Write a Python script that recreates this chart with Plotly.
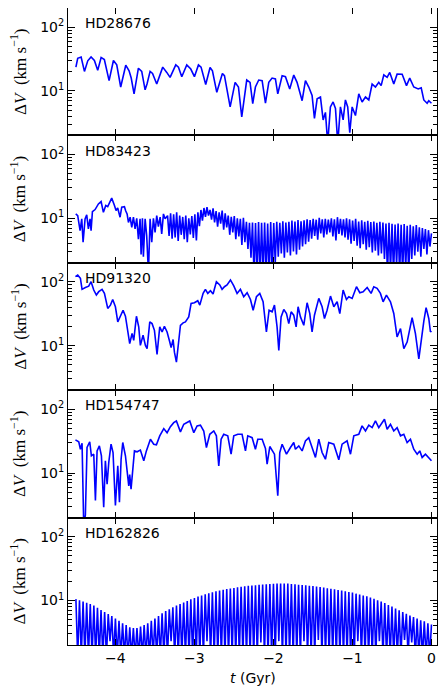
import numpy as np
import plotly.graph_objects as go
from plotly.subplots import make_subplots

# star names, top to bottom
stars = ["HD28676", "HD83423", "HD91320", "HD154747", "HD162826"]

# HD28676: time (Gyr) and velocity difference (km/s)
t_28676 = [-4.500, -4.477, -4.434, -4.392, -4.350, -4.308, -4.266, -4.224, -4.181, -4.140,
           -4.080, -4.025, -3.983, -3.933, -3.869, -3.827, -3.800, -3.764, -3.709, -3.667,
           -3.624, -3.600, -3.561, -3.530, -3.477, -3.401, -3.350, -3.308, -3.236, -3.202,
           -3.160, -3.097, -3.046, -3.000, -2.949, -2.916, -2.857, -2.802, -2.772, -2.717,
           -2.646, -2.620, -2.548, -2.485, -2.443, -2.401, -2.338, -2.296, -2.262, -2.228,
           -2.186, -2.143, -2.101, -2.059, -2.017, -1.975, -1.945, -1.890, -1.848, -1.794,
           -1.743, -1.701, -1.637, -1.595, -1.553, -1.511, -1.481, -1.447, -1.405, -1.371,
           -1.342, -1.313, -1.279, -1.245, -1.215, -1.186, -1.152, -1.118, -1.089, -1.060,
           -1.034, -1.004, -0.962, -0.920, -0.878, -0.835, -0.793, -0.751, -0.709, -0.667,
           -0.637, -0.603, -0.561, -0.528, -0.477, -0.435, -0.371, -0.316, -0.275, -0.224,
           -0.168, -0.130, -0.097, -0.055, -0.034, 0.000]
dv_28676 = [23.6, 32.5, 34.0, 20.2, 29.6, 34.0, 30.0, 21.0, 33.5, 31.0,
            14.5, 30.0, 25.6, 11.5, 25.3, 20.7, 15.9, 9.0, 22.7, 20.2,
            10.4, 12.8, 20.2, 18.8, 12.8, 23.6, 19.5, 16.3, 25.6, 23.6,
            16.7, 25.6, 22.0, 16.7, 25.6, 23.6, 12.6, 23.3, 20.7, 9.5,
            18.8, 17.3, 5.6, 13.6, 11.5, 3.9, 14.8, 13.6, 6.3, 11.5,
            14.8, 14.5, 6.4, 13.6, 15.9, 15.4, 9.0, 17.3, 16.7, 10.7,
            17.7, 13.6, 7.0, 14.5, 11.5, 8.5, 3.7, 7.5, 8.0, 3.5,
            4.6, 1.5, 5.6, 6.7, 5.3, 1.5, 5.6, 3.5, 7.2, 5.6,
            2.2, 5.6, 4.1, 9.0, 6.7, 8.0, 7.2, 12.8, 11.5, 13.6,
            12.1, 17.9, 16.3, 19.5, 12.8, 18.3, 18.2, 12.1, 15.9, 11.5,
            10.7, 11.2, 7.2, 6.4, 7.0, 6.4]

# HD83423: irregular early part, then fast oscillation (peaks / troughs per cycle)
t_83423_early = [-4.502, -4.477, -4.447, -4.426, -4.409, -4.384, -4.363, -4.342, -4.321, -4.308,
                 -4.291, -4.257, -4.215, -4.181, -4.152, -4.122, -4.097, -4.067, -4.047, -4.013,
                 -3.992, -3.971, -3.941, -3.920, -3.886, -3.869, -3.852, -3.835, -3.814, -3.793,
                 -3.772, -3.751, -3.730, -3.709, -3.688, -3.675, -3.658, -3.646, -3.624, -3.604,
                 -3.582, -3.561, -3.540, -3.519, -3.498, -3.477, -3.456, -3.434, -3.414, -3.392,
                 -3.371]
dv_83423_early = [11.7, 11.0, 6.4, 9.8, 4.2, 9.8, 11.3, 6.8, 9.8, 6.4,
                  12.7, 13.7, 16.8, 18.3, 12.4, 15.9, 15.2, 19.0, 20.7, 16.0,
                  13.2, 14.5, 10.4, 14.9, 15.2, 13.0, 11.7, 8.6, 10.4, 7.2,
                  10.4, 6.8, 10.0, 4.7, 9.8, 2.7, 10.0, 2.5, 9.8, 5.3,
                  1.4, 9.8, 4.2, 10.0, 6.0, 11.0, 7.4, 10.4, 5.7, 11.7,
                  9.8]
peak_83423 = [11.0, 12.0, 11.5, 12.4, 11.0, 10.5, 11.0, 10.0, 10.8, 11.5,
              12.4, 13.5, 14.5, 14.9, 13.5, 14.3, 13.0, 12.4, 13.2, 12.0,
              11.0, 10.5, 10.8, 10.0, 9.8, 10.2, 8.8, 8.5, 8.6, 8.4,
              8.7, 8.5, 8.6, 8.3, 8.7, 8.4, 8.8, 8.5, 9.0, 8.6,
              8.8, 9.2, 8.9, 9.4, 9.0, 9.3, 9.6, 9.4, 9.8, 9.5,
              10.2, 9.6, 9.8, 9.5, 10.0, 9.6, 10.4, 9.8, 9.6, 10.0,
              9.6, 9.2, 9.8, 8.9, 9.3, 8.8, 9.1, 8.7, 8.9, 8.5,
              8.8, 8.6, 8.3, 8.5, 8.2, 8.0, 8.3, 7.9, 8.1, 7.6,
              7.9, 7.5, 7.8, 7.2, 7.0, 6.8, 6.5, 5.8]
trough_83423 = [5.3, 4.8, 5.0, 4.4, 5.5, 4.7, 4.2, 5.6, 4.9, 4.5,
                7.5, 9.2, 10.5, 11.0, 9.5, 8.6, 7.4, 8.2, 6.6, 7.2,
                5.5, 6.0, 4.7, 5.2, 3.8, 4.2, 3.3, 2.4, 1.3, 1.3,
                1.3, 1.3, 1.3, 1.3, 1.3, 2.0, 2.5, 2.8, 2.4, 2.9,
                2.6, 3.0, 2.7, 3.2, 3.6, 3.9, 4.3, 4.8, 5.3, 4.6,
                5.8, 5.0, 5.6, 6.0, 5.2, 4.5, 5.7, 5.4, 5.0, 4.6,
                4.0, 4.4, 3.7, 3.4, 3.9, 3.2, 3.5, 2.9, 3.1, 2.6,
                2.8, 2.3, 1.3, 1.5, 1.3, 1.8, 1.3, 1.3, 1.6, 1.3,
                2.3, 2.6, 3.0, 2.5, 3.3, 2.7, 3.6]

# HD91320
t_91320 = [-4.506, -4.477, -4.443, -4.422, -4.380, -4.338, -4.308, -4.274, -4.241, -4.211,
           -4.169, -4.139, -4.097, -4.063, -4.034, -4.000, -3.970, -3.937, -3.903, -3.873,
           -3.844, -3.819, -3.789, -3.768, -3.734, -3.705, -3.684, -3.650, -3.620, -3.599,
           -3.565, -3.536, -3.506, -3.473, -3.439, -3.409, -3.380, -3.346, -3.312, -3.295,
           -3.270, -3.253, -3.228, -3.198, -3.177, -3.143, -3.114, -3.072, -3.042, -3.000,
           -2.958, -2.932, -2.890, -2.861, -2.831, -2.797, -2.764, -2.722, -2.679, -2.650,
           -2.620, -2.587, -2.544, -2.502, -2.460, -2.418, -2.376, -2.333, -2.291, -2.257,
           -2.215, -2.173, -2.131, -2.089, -2.055, -2.017, -1.987, -1.954, -1.932, -1.903,
           -1.869, -1.835, -1.806, -1.776, -1.743, -1.713, -1.688, -1.658, -1.616, -1.574,
           -1.540, -1.511, -1.481, -1.426, -1.384, -1.354, -1.321, -1.278, -1.236, -1.194,
           -1.160, -1.118, -1.076, -1.046, -1.004, -0.949, -0.907, -0.865, -0.814, -0.764,
           -0.730, -0.688, -0.646, -0.612, -0.570, -0.519, -0.477, -0.435, -0.392, -0.350,
           -0.308, -0.245, -0.203, -0.160, -0.131, -0.097, -0.068, -0.034, -0.013, 0.000]
dv_91320 = [121, 128, 114, 76.6, 82, 86, 101, 74.8, 62.3, 70.4,
            76.6, 66.2, 38.4, 43.3, 53.2, 40.8, 23.6, 30.1, 36, 29,
            15.5, 10.8, 15.5, 12.1, 29, 19.7, 10.1, 14.6, 10.1, 9.0,
            23.6, 22.2, 17.4, 7.3, 19.7, 16.4, 20.2, 16.4, 11.4, 9.3,
            12.5, 7.9, 5.5, 12.9, 20.9, 22.8, 23.6, 28.3, 46, 47.2,
            50.8, 43.3, 66.2, 76.6, 66.2, 73.1, 64.7, 101, 89.7, 76.6,
            84.2, 89.7, 107.6, 86.6, 66.2, 76.6, 58.6, 67.8, 53.2, 36,
            58.6, 66.2, 48.9, 16.4, 36, 34, 43.3, 19.7, 8.4, 28.3,
            37.1, 31.9, 22.2, 34, 30.1, 19.7, 40.8, 28.3, 20.9, 47.2,
            31.9, 16.4, 30.1, 55.2, 40.8, 26.7, 36, 60, 40.8, 48.9,
            31.9, 74.8, 53.2, 58.6, 55.2, 84.2, 67.8, 70.4, 82, 66.2,
            84.2, 79.4, 66.2, 48.9, 62.3, 48.9, 32, 13.7, 18.5, 9.0,
            11.4, 27.6, 15.5, 6.2, 12.9, 24, 39.6, 26.7, 16.4, 17]

# HD154747
t_154747 = [-4.506, -4.464, -4.443, -4.422, -4.401, -4.380, -4.359, -4.325, -4.304, -4.274,
            -4.253, -4.232, -4.203, -4.177, -4.148, -4.127, -4.105, -4.084, -4.055, -4.030,
            -4.000, -3.970, -3.949, -3.928, -3.907, -3.873, -3.831, -3.819, -3.802, -3.781,
            -3.759, -3.726, -3.684, -3.641, -3.608, -3.557, -3.515, -3.481, -3.439, -3.388,
            -3.346, -3.304, -3.262, -3.228, -3.177, -3.135, -3.093, -3.059, -3.008, -2.966,
            -2.924, -2.882, -2.848, -2.806, -2.755, -2.722, -2.692, -2.662, -2.629, -2.578,
            -2.536, -2.502, -2.451, -2.397, -2.354, -2.325, -2.270, -2.228, -2.198, -2.143,
            -2.101, -2.080, -2.046, -2.017, -1.987, -1.945, -1.920, -1.890, -1.835, -1.785,
            -1.743, -1.722, -1.679, -1.637, -1.595, -1.553, -1.511, -1.468, -1.426, -1.384,
            -1.342, -1.300, -1.236, -1.173, -1.131, -1.068, -1.025, -0.983, -0.920, -0.878,
            -0.835, -0.793, -0.751, -0.709, -0.667, -0.624, -0.595, -0.561, -0.519, -0.477,
            -0.435, -0.392, -0.350, -0.308, -0.266, -0.224, -0.181, -0.148, -0.118, -0.076,
            -0.034, 0.000]
dv_154747 = [33.2, 30.9, 23.7, 29.4, 1.5, 2.2, 25.2, 31, 18.7, 19.8,
             3.7, 22.3, 26.7, 18.7, 2.9, 15.6, 6.7, 14.7, 28.4, 21,
             3.1, 13.0, 3.5, 16.5, 30.2, 18.7, 6.3, 9.5, 5.6, 10.3,
             22.3, 21.6, 23, 15.6, 22.3, 33.9, 28.4, 27.8, 38.3, 49.9,
             43, 53.5, 61.9, 65.8, 44.3, 58.3, 61.9, 65.8, 43, 54.9,
             56.4, 45.8, 25.2, 40.6, 45.8, 38.4, 13.0, 34, 40.6, 38.4,
             19.8, 38.4, 40.6, 40.6, 22.3, 38.4, 36, 23.7, 34, 34,
             24.3, 13.8, 26.1, 22.3, 19.8, 4.4, 21.0, 28.4, 19.8, 25.2,
             30.2, 23.7, 26.7, 22.3, 32, 36, 25.2, 17.6, 34, 21,
             16.5, 30.2, 28.4, 16.2, 28.4, 32, 19.8, 38.4, 40.6, 55,
             45.8, 56.4, 51.7, 65.8, 51.7, 61.9, 69.9, 48.7, 58.3, 45.8,
             51.7, 38.4, 40.6, 30.2, 34, 23.7, 19.8, 22.3, 17.6, 19.8,
             17.6, 15.6]

# HD162826: one peak and one trough per orbital cycle
peak_162826 = [10.5, 10.1, 9.6, 9.2, 8.8, 8.3, 7.7, 7.1, 6.6, 6.1,
               5.7, 5.2, 4.8, 4.4, 4.1, 3.8, 3.7, 3.7, 3.9, 4.1,
               4.4, 4.8, 5.2, 5.7, 6.3, 6.8, 7.3, 7.8, 8.3, 8.8,
               9.3, 9.8, 10.4, 10.9, 11.5, 12.0, 12.5, 13.0, 13.4, 13.9,
               14.3, 14.7, 15.1, 15.4, 15.7, 16.1, 16.4, 16.7, 17.0, 17.2,
               17.4, 17.6, 17.8, 18.0, 18.1, 18.3, 18.4, 18.5, 18.5, 18.4,
               18.2, 18.0, 17.7, 17.5, 17.3, 17.0, 16.8, 16.6, 16.3, 16.0,
               15.6, 15.3, 15.0, 14.6, 14.3, 13.9, 13.6, 13.3, 12.8, 12.4,
               12.0, 11.6, 11.1, 10.6, 10.1, 9.6, 9.1, 8.5, 8.0, 7.5,
               7.0, 6.6, 6.2, 5.8, 5.5, 5.2, 4.9, 4.7, 4.4, 4.2]
trough_162826 = [1.3, 1.3, 1.3, 1.3, 1.3, 1.3, 1.3, 1.3, 1.3, 2.3,
                 1.3, 1.3, 1.3, 1.3, 1.3, 1.3, 1.3, 1.3, 1.3, 1.3,
                 1.3, 1.3, 1.3, 1.3, 1.3, 1.3, 2.3, 1.3, 1.3, 1.3,
                 1.3, 1.3, 1.3, 1.3, 1.3, 1.3, 2.3, 1.3, 1.3, 1.3,
                 1.3, 1.3, 1.3, 1.3, 1.3, 1.3, 1.3, 1.3, 1.3, 1.3,
                 1.3, 2.2, 1.3, 1.3, 1.3, 1.3, 2.3, 1.3, 1.3, 1.3,
                 1.3, 1.3, 1.3, 2.3, 1.3, 1.3, 1.3, 2.4, 1.3, 1.3,
                 1.3, 1.3, 1.3, 1.3, 1.3, 1.3, 1.3, 1.3, 2.3, 1.3,
                 1.3, 1.3, 1.3, 1.3, 2.3, 1.3, 1.3, 1.3, 1.3, 1.3,
                 1.3, 2.4, 1.3, 2.2, 1.3, 1.3, 1.3, 1.3, 1.3]


def interleave(t0, t1, peaks, troughs):
    # sample times of cycle peaks, troughs sit half way between them
    tp = np.linspace(t0, t1, len(peaks))
    xs, ys = [], []
    for i, p in enumerate(peaks):
        xs.append(tp[i])
        ys.append(p)
        if i < len(troughs):
            xs.append(0.5 * (tp[i] + tp[i + 1]))
            ys.append(troughs[i])
    return xs, ys


x2, y2 = interleave(-3.34, 0.0, peak_83423, trough_83423)
x5, y5 = interleave(-4.5, 0.0, peak_162826, trough_162826)

series = [
    (t_28676, dv_28676),
    (t_83423_early + x2, dv_83423_early + y2),
    (t_91320, dv_91320),
    (t_154747, dv_154747),
    (x5, y5),
]

fig = make_subplots(rows=5, cols=1, shared_xaxes=True, vertical_spacing=0)

for i, (x, y) in enumerate(series):
    fig.add_trace(go.Scatter(x=x, y=y, mode="lines",
                             line=dict(color="#0000ff", width=1.6),
                             showlegend=False), row=i + 1, col=1)

minor_vals = [m * 10 ** e for e in (0, 1, 2) for m in range(2, 10)]
ytitle = "Δ<i>V</i>&nbsp;&nbsp;(km&nbsp;s<sup>−1</sup>)"

for i in range(5):
    r = i + 1
    fig.update_yaxes(type="log", range=[np.log10(2), np.log10(200)],
                     tickvals=[10, 100], ticktext=["10<sup>1</sup>", "10<sup>2</sup>"],
                     ticks="inside", ticklen=7, tickwidth=1, tickcolor="black",
                     minor=dict(tickvals=minor_vals, ticks="inside", ticklen=4,
                                tickcolor="black", showgrid=False),
                     showline=True, linecolor="black", linewidth=1, mirror="ticks",
                     showgrid=False, zeroline=False, automargin=False,
                     tickfont=dict(family="DejaVu Sans", size=14, color="black"),
                     row=r, col=1)
    fig.update_xaxes(range=[-4.6, 0.07], tickvals=[-4, -3, -2, -1, 0],
                     ticks="inside", ticklen=6, tickwidth=1, tickcolor="black",
                     showline=True, linecolor="black", linewidth=1, mirror="ticks",
                     showgrid=False, zeroline=False, showticklabels=(r == 5),
                     automargin=False,
                     tickfont=dict(family="DejaVu Sans", size=14, color="black"),
                     row=r, col=1)
    yname = "y" if r == 1 else f"y{r}"
    fig.add_annotation(text=stars[i], xref="x domain", yref=f"{yname} domain",
                       x=0.04, y=0.88, xanchor="left", yanchor="middle",
                       showarrow=False,
                       font=dict(family="DejaVu Sans", size=14, color="black"),
                       row=r, col=1)
    fig.add_annotation(text=ytitle, xref="paper", yref=f"{yname} domain",
                       x=-0.135, y=0.5, xanchor="center", yanchor="middle",
                       textangle=-90, showarrow=False,
                       font=dict(family="Liberation Serif", size=17, color="black"))

fig.add_annotation(text="<i>t</i> (Gyr)", xref="paper", yref="paper",
                   x=0.5, y=-0.052, xanchor="center", yanchor="middle",
                   showarrow=False,
                   font=dict(family="DejaVu Sans", size=14, color="black"))

# the page body adds an 8 px offset, so the figure is a little smaller
fig.update_layout(width=439, height=687,
                  margin=dict(l=60, r=10, t=0, b=50, autoexpand=False),
                  paper_bgcolor="white", plot_bgcolor="white")

fig.write_html("out.html")
